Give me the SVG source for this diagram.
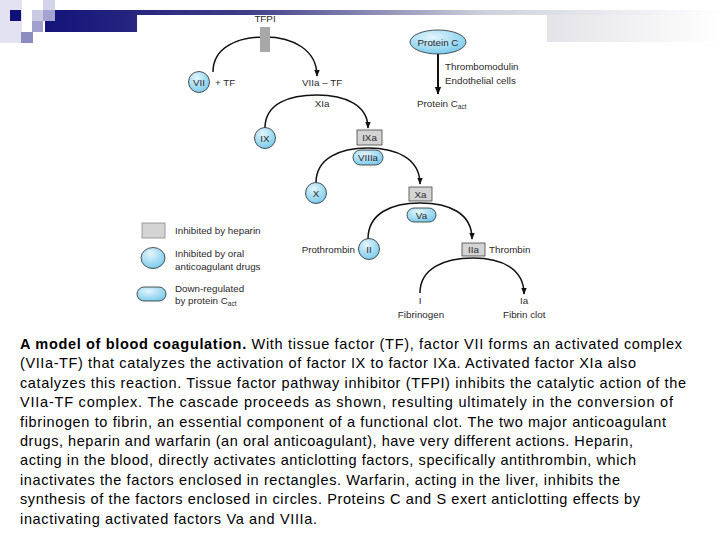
<svg xmlns="http://www.w3.org/2000/svg" width="720" height="540" viewBox="0 0 720 540">
<defs>
<linearGradient id="bar" x1="0" y1="0" x2="1" y2="0">
<stop offset="0" stop-color="#13137a"/>
<stop offset="0.3" stop-color="#3e3e88"/>
<stop offset="0.65" stop-color="#d0d0dc"/>
<stop offset="1" stop-color="#ffffff"/>
</linearGradient>
<linearGradient id="rbar" x1="0" y1="0" x2="1" y2="0">
<stop offset="0" stop-color="#e4e4e8"/>
<stop offset="1" stop-color="#ffffff"/>
</linearGradient>
<radialGradient id="blue" cx="0.4" cy="0.3" r="0.8">
<stop offset="0" stop-color="#e4f5fc"/>
<stop offset="1" stop-color="#6ec6ea"/>
</radialGradient>
<marker id="ah" viewBox="0 0 10 10" refX="9" refY="5" markerWidth="7" markerHeight="7" orient="auto" markerUnits="userSpaceOnUse">
<path d="M0,1 L10,5 L0,9 Z" fill="#111"/>
</marker>
<marker id="ah2" viewBox="0 0 10 10" refX="9" refY="5" markerWidth="8" markerHeight="8" orient="auto" markerUnits="userSpaceOnUse">
<path d="M0,1 L10,5 L0,9 Z" fill="#111"/>
</marker>
</defs>
<style>
.t{font-family:"Liberation Sans",Arial,sans-serif;font-size:9.8px;fill:#2a2a2a}
.c{font-family:"Liberation Sans",Arial,sans-serif;font-size:14.5px;fill:#000}
.b{font-weight:bold}
.circ{fill:url(#blue);stroke:#2a2a2a;stroke-width:0.8}
.rect{fill:#d4d4d4;stroke:#444;stroke-width:0.8}
.arc{fill:none;stroke:#111;stroke-width:1.5;marker-end:url(#ah)}
</style>
<rect width="720" height="540" fill="#fff"/>
<g id="header">
<rect x="0" y="0" width="22" height="43" fill="#e2e2f0"/>
<rect x="10" y="10" width="11" height="11" fill="#10107a"/>
<rect x="32" y="10" width="11" height="11" fill="#cacae4"/>
<rect x="43" y="0" width="12" height="10" fill="#d4d4ea"/>
<rect x="32" y="21" width="11" height="11" fill="#a0a0cc"/>
<rect x="21" y="32" width="12" height="11" fill="#8c8cc0"/>
<rect x="45" y="10" width="675" height="22" fill="url(#bar)"/>
<rect x="43" y="10" width="12" height="11" fill="#a4a4d2"/>
<rect x="547" y="15" width="173" height="27" fill="url(#rbar)"/>
<rect x="137" y="15" width="410" height="305" fill="#fff"/>
</g>
<g id="connectors">
<path class="arc" d="M213,72 C213,47 238,37 265,37 C293,37 317,50 317,76"/>
<path class="arc" d="M265,128 C265,103 290,95 317,95 C345,95 368,105 368,128"/>
<path class="arc" d="M316,183 C316,158 340,148 368,148 C397,148 420,159 420,184"/>
<path class="arc" d="M368,239 C368,213 392,203 420,203 C449,203 472,213 472,239"/>
<path class="arc" d="M420,293 C420,268 445,258 473,258 C502,258 524,269 524,294"/>
<line x1="438" y1="54" x2="438" y2="94" stroke="#111" stroke-width="2" marker-end="url(#ah2)"/>
</g>
<g id="tfpi">
<text class="t" x="265" y="22" text-anchor="middle">TFPI</text>
<rect x="260" y="27" width="10" height="25" fill="#a8a8a8"/>
</g>
<g id="vii">
<circle class="circ" cx="199" cy="82" r="10.5"/>
<text class="t" x="199" y="85.5" text-anchor="middle">VII</text>
<text class="t" x="215" y="86">+ TF</text>
</g>
<g id="viia-tf"><text class="t" x="302" y="86">VIIa – TF</text></g>
<g id="xia"><text class="t" x="322" y="107" text-anchor="middle">XIa</text></g>
<g id="ix">
<circle class="circ" cx="265" cy="138" r="10.5"/>
<text class="t" x="265" y="141.5" text-anchor="middle">IX</text>
</g>
<g id="ixa">
<rect class="rect" x="357" y="130" width="25" height="15"/>
<text class="t" x="369.5" y="141" text-anchor="middle">IXa</text>
</g>
<g id="viiia">
<rect class="circ" x="353" y="150" width="30" height="15" rx="7.5"/>
<text class="t" x="368" y="161" text-anchor="middle">VIIIa</text>
</g>
<g id="x">
<circle class="circ" cx="316" cy="193" r="10.5"/>
<text class="t" x="316" y="196.5" text-anchor="middle">X</text>
</g>
<g id="xa">
<rect class="rect" x="409" y="187" width="23" height="14"/>
<text class="t" x="420.5" y="197.5" text-anchor="middle">Xa</text>
</g>
<g id="va">
<rect class="circ" x="407" y="208" width="29" height="14" rx="7"/>
<text class="t" x="421.5" y="218.5" text-anchor="middle">Va</text>
</g>
<g id="ii">
<circle class="circ" cx="369" cy="249" r="10.5"/>
<text class="t" x="369" y="252.5" text-anchor="middle">II</text>
<text class="t" x="355" y="252.5" text-anchor="end">Prothrombin</text>
</g>
<g id="iia">
<rect class="rect" x="462" y="243" width="23" height="13"/>
<text class="t" x="473.5" y="253" text-anchor="middle">IIa</text>
<text class="t" x="489" y="252.5">Thrombin</text>
</g>
<g id="fibrinogen">
<text class="t" x="420" y="304" text-anchor="middle">I</text>
<text class="t" x="421" y="318" text-anchor="middle">Fibrinogen</text>
</g>
<g id="fibrin">
<text class="t" x="524" y="304" text-anchor="middle">Ia</text>
<text class="t" x="503" y="318">Fibrin clot</text>
</g>
<g id="proteinc">
<ellipse class="circ" cx="438" cy="42" rx="28" ry="12"/>
<text class="t" x="438" y="45.5" text-anchor="middle">Protein C</text>
<text class="t" x="445" y="70">Thrombomodulin</text>
<text class="t" x="445" y="84">Endothelial cells</text>
</g>
<g id="proteincact">
<text class="t" x="417" y="107">Protein C<tspan font-size="6.5" dy="2">act</tspan></text>
</g>
<g id="legend">
<rect x="142" y="223" width="23" height="15" fill="#d4d4d4" stroke="#888" stroke-width="0.8"/>
<text class="t" x="175" y="234">Inhibited by heparin</text>
<ellipse class="circ" cx="153" cy="258" rx="12" ry="10.5"/>
<text class="t" x="175" y="257">Inhibited by oral</text>
<text class="t" x="175" y="270">anticoagulant drugs</text>
<rect class="circ" x="137" y="287" width="29" height="14" rx="7"/>
<text class="t" x="175" y="292">Down-regulated</text>
<text class="t" x="175" y="304">by protein C<tspan font-size="6.5" dy="2">act</tspan></text>
</g>
<g id="caption">
<text class="c" x="20" y="349" textLength="662" lengthAdjust="spacing"><tspan class="b">A model of blood coagulation.</tspan> With tissue factor (TF), factor VII forms an activated complex</text>
<text class="c" x="20" y="368.4" textLength="616" lengthAdjust="spacing">(VIIa-TF) that catalyzes the activation of factor IX to factor IXa. Activated factor XIa also</text>
<text class="c" x="20" y="387.8" textLength="666" lengthAdjust="spacing">catalyzes this reaction. Tissue factor pathway inhibitor (TFPI) inhibits the catalytic action of the</text>
<text class="c" x="20" y="407.2" textLength="653" lengthAdjust="spacing">VIIa-TF complex. The cascade proceeds as shown, resulting ultimately in the conversion of</text>
<text class="c" x="20" y="426.6" textLength="646" lengthAdjust="spacing">fibrinogen to fibrin, an essential component of a functional clot. The two major anticoagulant</text>
<text class="c" x="20" y="446" textLength="613" lengthAdjust="spacing">drugs, heparin and warfarin (an oral anticoagulant), have very different actions. Heparin,</text>
<text class="c" x="20" y="465.4" textLength="616" lengthAdjust="spacing">acting in the blood, directly activates anticlotting factors, specifically antithrombin, which</text>
<text class="c" x="20" y="484.8" textLength="600" lengthAdjust="spacing">inactivates the factors enclosed in rectangles. Warfarin, acting in the liver, inhibits the</text>
<text class="c" x="20" y="504.2" textLength="620" lengthAdjust="spacing">synthesis of the factors enclosed in circles. Proteins C and S exert anticlotting effects by</text>
<text class="c" x="20" y="523.6" textLength="297" lengthAdjust="spacing">inactivating activated factors Va and VIIIa.</text>
</g>
</svg>
